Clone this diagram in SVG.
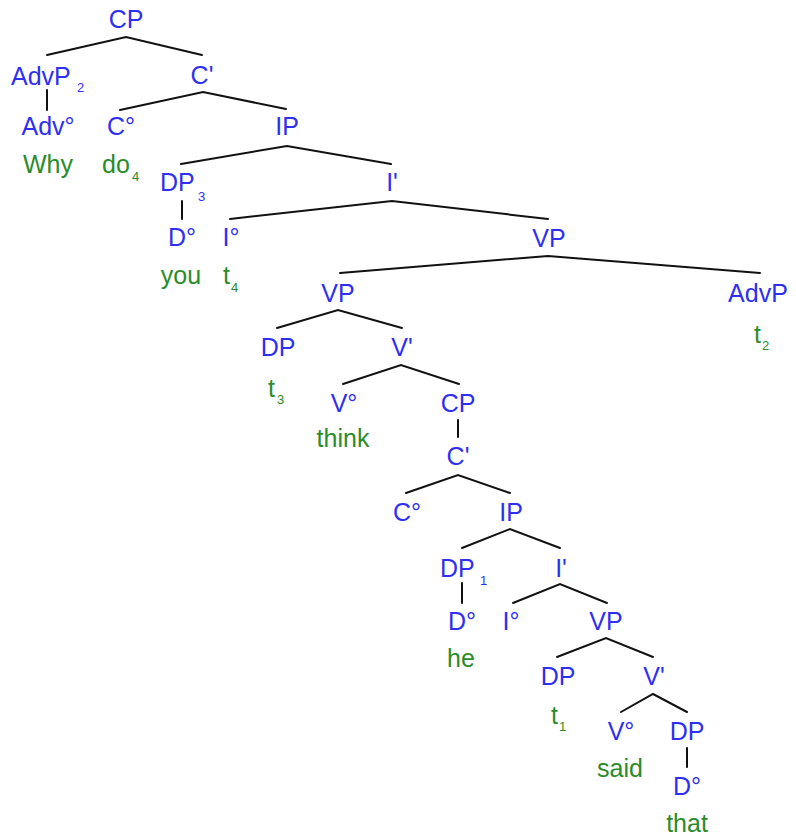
<svg xmlns="http://www.w3.org/2000/svg" width="796" height="839" viewBox="0 0 796 839">
  <style>
    text { font-family: "Liberation Sans", Arial, Helvetica, sans-serif; }
    .cat { fill: #2f2ff2; font-size: 25px; text-anchor: middle; }
    .catL { fill: #2f2ff2; font-size: 25px; }
    .word { fill: #2a8c2a; font-size: 25px; text-anchor: middle; }
    .wordL { fill: #2a8c2a; font-size: 25px; }
    .sub { font-size: 13px; }
    .edge { stroke: #111; stroke-width: 2; fill: none; stroke-linecap: round; }
  </style>
  <rect width="796" height="839" fill="#fff"/>

  <!-- branches -->
  <g id="connectors" class="edge">
    <polyline points="47,55 126,37 202,55"/>
    <line x1="47" y1="90" x2="47" y2="110"/>
    <polyline points="120,110 203,92 286,109"/>
    <polyline points="181,164 287,146 391,164"/>
    <line x1="182" y1="201" x2="182" y2="219"/>
    <polyline points="230,219 392,201 548,219"/>
    <polyline points="340,273 548,256 760,273"/>
    <polyline points="277,328 338,310 402,328"/>
    <polyline points="343,384 401,365 459,384"/>
    <line x1="458" y1="420" x2="458" y2="437"/>
    <polyline points="406,493 458,475 510,493"/>
    <polyline points="462,548 510,529 560,548"/>
    <line x1="462" y1="583" x2="462" y2="603"/>
    <polyline points="513,603 560,584 607,603"/>
    <polyline points="557,657 606,638 653,657"/>
    <polyline points="621,712 653,694 687,712"/>
    <line x1="687" y1="748" x2="687" y2="767"/>
  </g>

  <!-- matrix clause -->
  <g id="cp-root"><text class="cat" x="126" y="28">CP</text></g>
  <g id="advp-2"><text class="catL" x="11" y="85">AdvP</text><text class="catL sub" x="77" y="92">2</text></g>
  <g id="c-bar-1"><text class="cat" x="202" y="84">C'</text></g>
  <g id="adv-head"><text class="cat" x="48" y="135">Adv°</text><text class="word" x="48" y="173">Why</text></g>
  <g id="c-head-1"><text class="cat" x="121" y="135">C°</text><text class="wordL" x="102" y="173">do</text><text class="wordL sub" x="132" y="181">4</text></g>
  <g id="ip-1"><text class="cat" x="287" y="135">IP</text></g>
  <g id="dp-3"><text class="catL" x="160" y="191">DP</text><text class="catL sub" x="198" y="201">3</text></g>
  <g id="i-bar-1"><text class="cat" x="392" y="191">I'</text></g>
  <g id="d-head-1"><text class="cat" x="182" y="246">D°</text><text class="word" x="181" y="284">you</text></g>
  <g id="i-head-1"><text class="cat" x="231" y="246">I°</text><text class="wordL" x="223" y="284">t</text><text class="wordL sub" x="231" y="292">4</text></g>
  <g id="vp-1"><text class="cat" x="549" y="247">VP</text></g>
  <g id="vp-2"><text class="cat" x="338" y="302">VP</text></g>
  <g id="advp-trace"><text class="cat" x="758" y="302">AdvP</text><text class="wordL" x="754" y="343">t</text><text class="wordL sub" x="762" y="350">2</text></g>
  <g id="dp-spec-1"><text class="cat" x="278" y="356">DP</text><text class="wordL" x="268" y="397">t</text><text class="wordL sub" x="277" y="404">3</text></g>
  <g id="v-bar-1"><text class="cat" x="402" y="356">V'</text></g>
  <g id="v-head-1"><text class="cat" x="344" y="412">V°</text><text class="word" x="343" y="447">think</text></g>

  <!-- embedded clause -->
  <g id="cp-2"><text class="cat" x="458" y="412">CP</text></g>
  <g id="c-bar-2"><text class="cat" x="458" y="465">C'</text></g>
  <g id="c-head-2"><text class="cat" x="407" y="521">C°</text></g>
  <g id="ip-2"><text class="cat" x="511" y="521">IP</text></g>
  <g id="dp-1"><text class="catL" x="440" y="577">DP</text><text class="catL sub" x="480" y="585">1</text></g>
  <g id="i-bar-2"><text class="cat" x="561" y="577">I'</text></g>
  <g id="d-head-2"><text class="cat" x="462" y="630">D°</text><text class="word" x="461" y="667">he</text></g>
  <g id="i-head-2"><text class="cat" x="511" y="630">I°</text></g>
  <g id="vp-3"><text class="cat" x="606" y="630">VP</text></g>
  <g id="dp-spec-2"><text class="cat" x="558" y="685">DP</text><text class="wordL" x="551" y="724">t</text><text class="wordL sub" x="559" y="731">1</text></g>
  <g id="v-bar-2"><text class="cat" x="654" y="685">V'</text></g>
  <g id="v-head-2"><text class="cat" x="621" y="740">V°</text><text class="word" x="620" y="777">said</text></g>
  <g id="dp-obj"><text class="cat" x="687" y="740">DP</text></g>
  <g id="d-head-3"><text class="cat" x="687" y="795">D°</text><text class="word" x="687" y="832">that</text></g>
</svg>
